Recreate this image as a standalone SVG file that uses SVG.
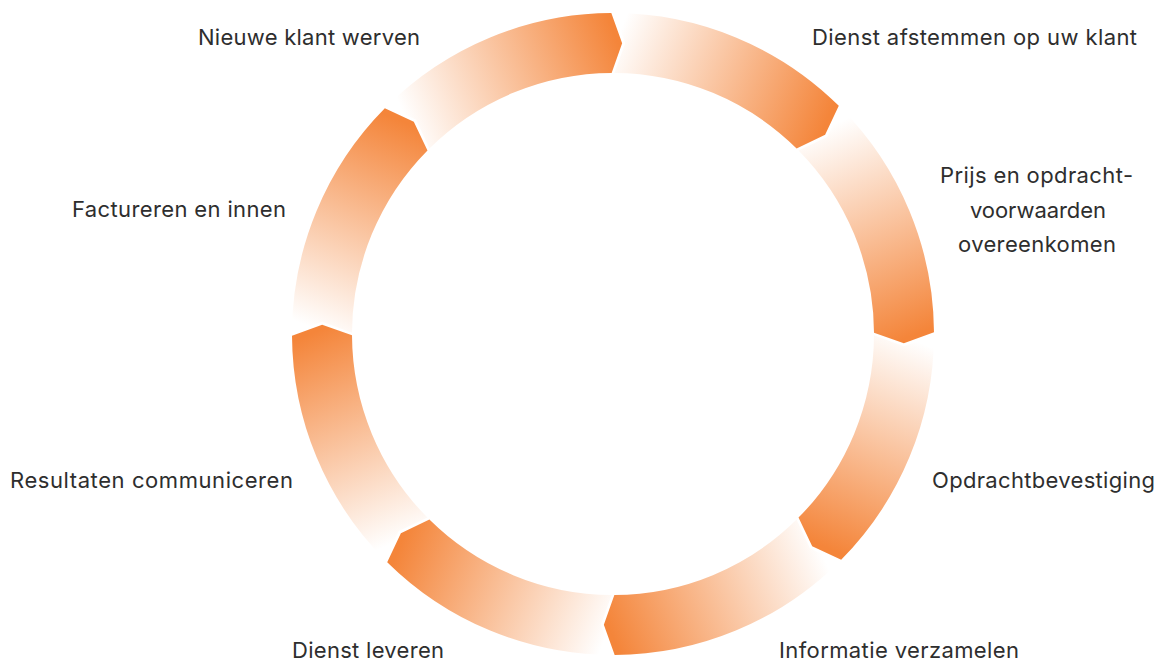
<svg xmlns="http://www.w3.org/2000/svg" width="1162" height="661" viewBox="0 0 1162 661">
<defs>
<linearGradient id="seg" gradientUnits="userSpaceOnUse" x1="2" y1="-291" x2="210" y2="-204">
<stop offset="0" stop-color="#FFFFFF"/>
<stop offset="1" stop-color="#F4853A"/>
</linearGradient>
<path id="arc" d="M 1.68 -321.0 A 321 321 0 0 1 225.79 -228.17 L 212.13 -199.20 L 183.59 -185.52 A 261 261 0 0 0 1.37 -261.0 L 12.19 -290.74 Z"/>
</defs>
<style>
.seg{fill:url(#seg);}
.lbl{font-family:Inter,Roboto,"Liberation Sans",sans-serif;font-size:22px;fill:#2e2e2e;}
</style>
<rect width="1162" height="661" fill="#FFFFFF"/>
<g id="connectors"></g>
<g id="n1"><use href="#arc" class="seg" transform="translate(613,334) rotate(-45)"/><text class="lbl" x="198" y="45" textLength="222" lengthAdjust="spacing">Nieuwe klant werven</text></g>
<g id="n2"><use href="#arc" class="seg" transform="translate(613,334)"/><text class="lbl" x="812" y="45" textLength="325" lengthAdjust="spacing">Dienst afstemmen op uw klant</text></g>
<g id="n3"><use href="#arc" class="seg" transform="translate(613,334) rotate(45)"/><text class="lbl" x="940" y="183" textLength="193" lengthAdjust="spacing">Prijs en opdracht-</text><text class="lbl" x="970" y="218" textLength="136" lengthAdjust="spacing">voorwaarden</text><text class="lbl" x="958" y="252" textLength="158" lengthAdjust="spacing">overeenkomen</text></g>
<g id="n4"><use href="#arc" class="seg" transform="translate(613,334) rotate(90)"/><text class="lbl" x="932" y="488" textLength="223" lengthAdjust="spacing">Opdrachtbevestiging</text></g>
<g id="n5"><use href="#arc" class="seg" transform="translate(613,334) rotate(135)"/><text class="lbl" x="779" y="658" textLength="240" lengthAdjust="spacing">Informatie verzamelen</text></g>
<g id="n6"><use href="#arc" class="seg" transform="translate(613,334) rotate(180)"/><text class="lbl" x="292" y="658" textLength="152" lengthAdjust="spacing">Dienst leveren</text></g>
<g id="n7"><use href="#arc" class="seg" transform="translate(613,334) rotate(225)"/><text class="lbl" x="10" y="488" textLength="283" lengthAdjust="spacing">Resultaten communiceren</text></g>
<g id="n8"><use href="#arc" class="seg" transform="translate(613,334) rotate(270)"/><text class="lbl" x="72" y="217" textLength="214" lengthAdjust="spacing">Factureren en innen</text></g>
</svg>
